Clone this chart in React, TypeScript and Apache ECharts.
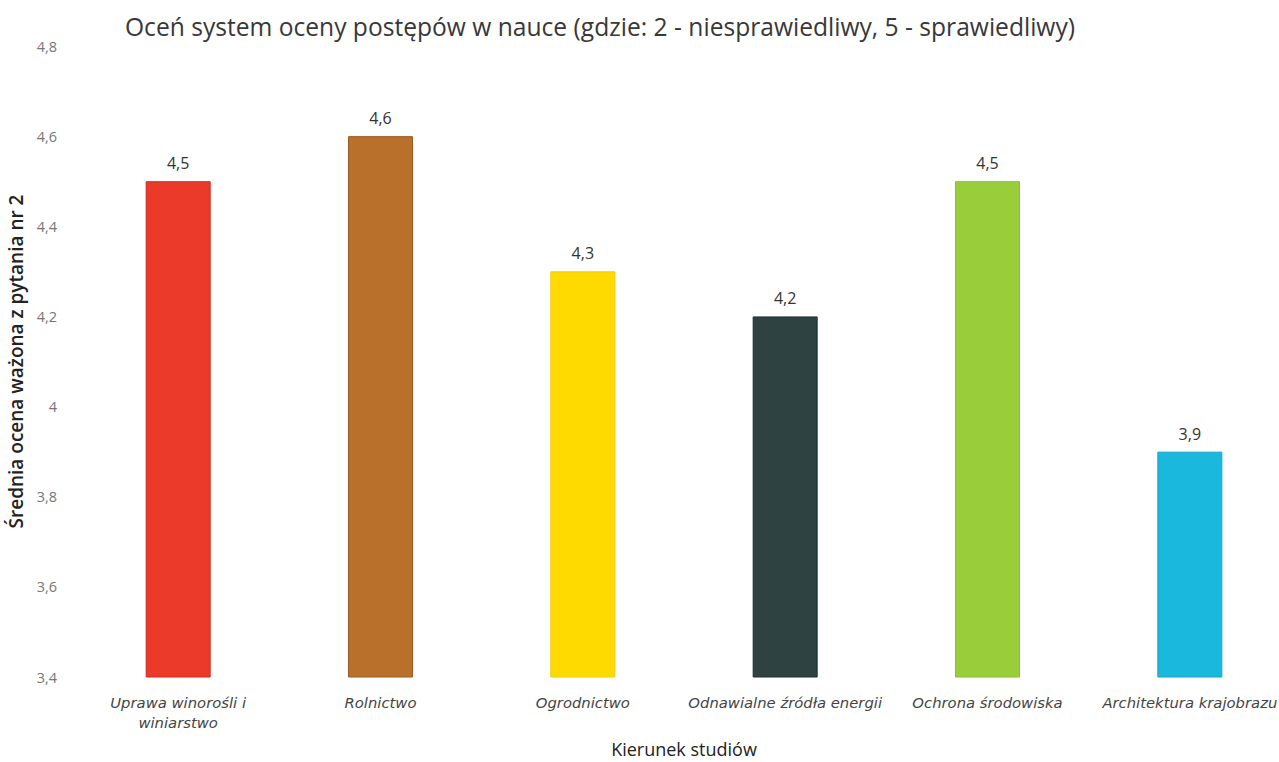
import React, { useEffect, useRef } from "react";
import * as echarts from "echarts";

const categories = [
  "Uprawa winorośli i\nwiniarstwo",
  "Rolnictwo",
  "Ogrodnictwo",
  "Odnawialne źródła energii",
  "Ochrona środowiska",
  "Architektura krajobrazu",
];
const values = [4.5, 4.6, 4.3, 4.2, 4.5, 3.9];
const colors = ["#EC3A2A", "#B8702A", "#FFDA00", "#2F4242", "#9ACD3A", "#1AB8DC"];
const borders = ["#D02A20", "#9A5A20", "#F0CC00", "#1F2E2E", "#8BBE30", "#14A8CC"];

const fmt = (v: number) => String(Math.round(v * 10) / 10).replace(".", ",");

export default function App() {
  const ref = useRef<HTMLDivElement>(null);
  useEffect(() => {
    if (!ref.current) return;
    const chart = echarts.init(ref.current, null, { renderer: "svg" });
    chart.setOption({
      animation: false,
      backgroundColor: "#ffffff",
      title: {
        text: "Oceń system oceny postępów w nauce (gdzie: 2 - niesprawiedliwy, 5 - sprawiedliwy)",
        left: 595,
        top: 9,
        textAlign: "center",
        textStyle: {
          fontFamily: "Open Sans",
          fontSize: 24.6,
          fontWeight: "normal",
          color: "#383838",
        },
      },
      grid: {
        left: 77,
        right: 19,
        top: 46,
        bottom: 85,
        containLabel: false,
        outerBoundsMode: "none",
      },
      xAxis: {
        type: "category",
        data: categories,
        axisLine: { show: false },
        axisTick: { show: false },
        axisLabel: {
          interval: 0,
          margin: 15,
          fontFamily: "DejaVu Sans",
          fontStyle: "italic",
          fontSize: 14.8,
          color: "#444444",
          lineHeight: 20,
        },
        name: "Kierunek studiów",
        nameLocation: "middle",
        nameGap: 63,
        nameTextStyle: {
          fontFamily: "Open Sans",
          fontSize: 18,
          color: "#222222",
        },
      },
      yAxis: {
        type: "value",
        min: 3.4,
        max: 4.8,
        interval: 0.2,
        axisLine: { show: false },
        axisTick: { show: false },
        splitLine: { show: false },
        axisLabel: {
          margin: 20,
          fontFamily: "Open Sans",
          fontSize: 14.5,
          color: "#777777",
          formatter: fmt,
        },
        name: "Średnia ocena ważona z pytania nr 2",
        nameLocation: "middle",
        nameGap: 49,
        nameTextStyle: {
          fontFamily: "Open Sans",
          fontSize: 19,
          fontWeight: 600,
          color: "#222222",
        },
      },
      series: [
        {
          type: "bar",
          barWidth: 65,
          data: values.map((v, i) => ({
            value: v,
            itemStyle: { color: colors[i], borderColor: borders[i], borderWidth: 1 },
          })),
          label: {
            show: true,
            position: "top",
            distance: 10,
            fontFamily: "Open Sans",
            fontSize: 16,
            color: "#333333",
            formatter: (p: any) => fmt(p.value),
          },
        },
      ],
    });
    return () => chart.dispose();
  }, []);
  return (
    <div
      style={{
        position: "absolute",
        left: 0,
        top: 0,
        width: 1279,
        height: 762,
        overflow: "hidden",
      }}
    >
      <div ref={ref} style={{ width: 1310, height: 762 }} />
    </div>
  );
}
